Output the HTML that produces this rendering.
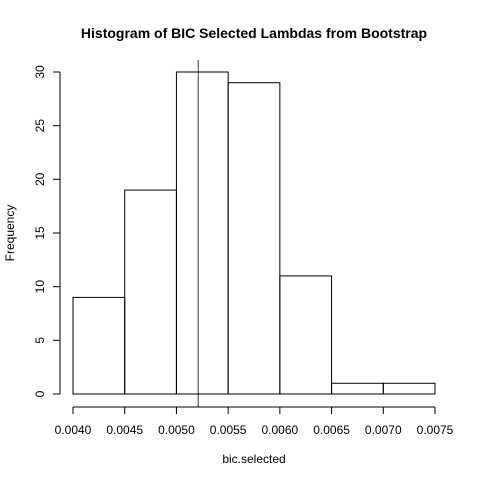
<!DOCTYPE html>
<html><head><meta charset="utf-8"><style>
html,body{margin:0;padding:0;background:#fff;}
svg{display:block;font-family:"Liberation Sans",Arial,sans-serif;}
</style></head><body>
<svg id="chart" width="480" height="480" viewBox="0 0 480 480">
<text x="254" y="38" text-anchor="middle" font-weight="bold" font-size="14">Histogram of BIC Selected Lambdas from Bootstrap</text>
<text x="254" y="463" text-anchor="middle" font-size="12">bic.selected</text>
<text x="0" y="0" transform="translate(14,233) rotate(-90)" text-anchor="middle" font-size="12">Frequency</text>
<g id="bars"></g>
<g id="xaxis"></g>
<g id="yaxis"></g>
</svg>
<script>
const binEdges = [0.0040,0.0045,0.0050,0.0055,0.0060,0.0065,0.0070,0.0075];
const counts = [9,19,30,29,11,1,1];
const xTicks = [0.0040,0.0045,0.0050,0.0055,0.0060,0.0065,0.0070,0.0075];
const xTickLabels = ["0.0040","0.0045","0.0050","0.0055","0.0060","0.0065","0.0070","0.0075"];
const yTicks = [0,5,10,15,20,25,30];
const selectedLambda = 0.00521;

const NS="http://www.w3.org/2000/svg";
function sx(v){return 73+(v-0.0040)/0.0035*362;}
function sy(v){return 394-v/30*322;}
function mk(tag,attrs,parent){const e=document.createElementNS(NS,tag);for(const k in attrs)e.setAttribute(k,attrs[k]);parent.appendChild(e);return e;}
const bars=document.getElementById('bars');
counts.forEach((c,i)=>{
  const x0=sx(binEdges[i]),x1=sx(binEdges[i+1]);
  const r=mk('rect',{x:x0,y:sy(c),width:x1-x0,height:sy(0)-sy(c),fill:'none',stroke:'#000','stroke-width':1},bars);
  
  
});
const vl=mk('line',{x1:sx(selectedLambda),x2:sx(selectedLambda),y1:60,y2:407,stroke:'#000','stroke-width':0.8},bars);


const xa=document.getElementById('xaxis');
mk('line',{x1:sx(xTicks[0]),x2:sx(xTicks[xTicks.length-1]),y1:407,y2:407,stroke:'#000'},xa);
xTicks.forEach((t,i)=>{
  mk('line',{x1:sx(t),x2:sx(t),y1:407,y2:414,stroke:'#000'},xa);
  const tx=mk('text',{x:sx(t),y:434,'text-anchor':'middle','font-size':12},xa);
  tx.textContent=xTickLabels[i];
  
  
});
const ya=document.getElementById('yaxis');
mk('line',{x1:60,x2:60,y1:sy(0),y2:sy(30),stroke:'#000'},ya);
yTicks.forEach(t=>{
  mk('line',{x1:53,x2:60,y1:sy(t),y2:sy(t),stroke:'#000'},ya);
  const tx=mk('text',{x:0,y:0,transform:`translate(44,${sy(t)}) rotate(-90)`,'text-anchor':'middle','font-size':12},ya);
  tx.textContent=String(t);
  
  
});
</script>
</body></html>
